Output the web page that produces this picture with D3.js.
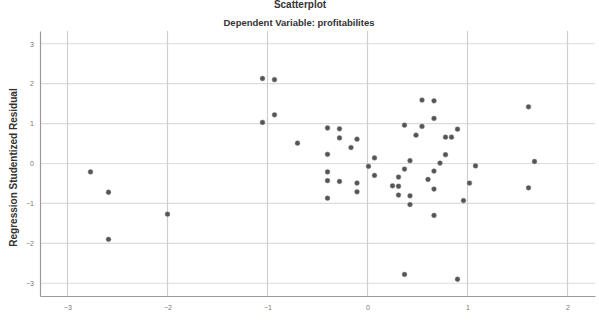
<!DOCTYPE html>
<html>
<head>
<meta charset="utf-8">
<script src="https://d3js.org/d3.v7.min.js"></script>
<style>
  html, body { margin: 0; padding: 0; background: #fff; }
  svg { display: block; }
</style>
</head>
<body>
<div id="chart"></div>
<script>
// standardized predicted value (x) and studentized residual (y)
var predX = [-1.05, -0.93, -0.93, -1.05, -0.70, -2.77, -2.59, -2.00, -2.59,
  0.545, 0.665, 1.61, 0.665, -0.40, -0.28, 0.37, 0.545, 0.90, -0.28, -0.105,
  0.485, 0.78, 0.84, -0.165, -0.40, 0.78, 0.07, 0.425, 0.725, 0.01, 1.08,
  1.67, 0.37, 0.665, -0.40, 0.07, 0.31, -0.40, -0.28, 0.605, -0.105, 1.02,
  0.25, 0.31, 1.61, 0.665, -0.105, 0.31, 0.425, -0.40, 0.96, 0.425, 0.665,
  0.37, 0.90];
var residY = [2.13, 2.10, 1.22, 1.03, 0.51, -0.21, -0.72, -1.27, -1.90,
  1.59, 1.57, 1.42, 1.13, 0.89, 0.87, 0.96, 0.93, 0.86, 0.64, 0.61,
  0.71, 0.66, 0.66, 0.40, 0.23, 0.22, 0.14, 0.07, 0.01, -0.07, -0.06,
  0.05, -0.14, -0.19, -0.21, -0.30, -0.34, -0.43, -0.45, -0.40, -0.49, -0.49,
  -0.56, -0.57, -0.61, -0.64, -0.71, -0.79, -0.81, -0.87, -0.93, -1.03, -1.30,
  -2.78, -2.90];
var xTicks = [-3, -2, -1, 0, 1, 2];
var yTicks = [-3, -2, -1, 0, 1, 2, 3];

var chartTitle = "Scatterplot";
var chartSubtitle = "Dependent Variable: profitabilites";
var yTitle = "Regression Studentized Residual";

var W = 599, H = 321;
var margin = { top: 31, right: 4, bottom: 25, left: 40 };
var width = W - margin.left - margin.right,
    height = H - margin.top - margin.bottom;

var svg = d3.select("#chart").append("svg")
  .attr("width", W)
  .attr("height", H)
  .style("font-family", "Arial, 'Liberation Sans', sans-serif");

var g = svg.append("g")
  .attr("transform", "translate(" + margin.left + "," + margin.top + ")");

var x = d3.scaleLinear().domain([-3.275, 2.275]).range([0, width]);
var y = d3.scaleLinear().domain([-3.32, 3.32]).range([height, 0]);

// grid lines
g.append("g").selectAll("line")
  .data(yTicks).enter().append("line")
  .attr("x1", 0).attr("x2", width)
  .attr("y1", function (d) { return y(d); })
  .attr("y2", function (d) { return y(d); })
  .attr("stroke", "#dcdcdc").attr("stroke-width", 1.2);

g.append("g").selectAll("line")
  .data(xTicks).enter().append("line")
  .attr("y1", 0).attr("y2", height)
  .attr("x1", function (d) { return x(d); })
  .attr("x2", function (d) { return x(d); })
  .attr("stroke", "#cfcfcf").attr("stroke-width", 1.2);

// axes
var fmt = d3.format("d");
var xAxis = g.append("g")
  .attr("transform", "translate(0," + height + ")")
  .call(d3.axisBottom(x).tickValues(xTicks).tickFormat(fmt).tickSize(0).tickPadding(9));
var yAxis = g.append("g")
  .call(d3.axisLeft(y).tickValues(yTicks).tickFormat(fmt).tickSize(0).tickPadding(6));

[xAxis, yAxis].forEach(function (a) {
  a.select(".domain").attr("stroke", "#9a9a9a").attr("stroke-width", 1.2);
  a.selectAll("text").attr("fill", "#777").style("font-size", "7px")
    .style("font-family", "Arial, 'Liberation Sans', sans-serif");
});

// points
g.append("g").selectAll("circle")
  .data(predX).enter().append("circle")
  .attr("cx", function (d) { return x(d); })
  .attr("cy", function (d, i) { return y(residY[i]); })
  .attr("r", 2.4)
  .attr("fill", "#555")
  .attr("stroke", "#7a7a7a")
  .attr("stroke-width", 0.5);

// titles
svg.append("text")
  .attr("x", 300).attr("y", 8)
  .attr("text-anchor", "middle")
  .attr("fill", "#333")
  .style("font-size", "10px").style("font-weight", "bold")
  .text(chartTitle);

svg.append("text")
  .attr("x", 299).attr("y", 26)
  .attr("text-anchor", "middle")
  .attr("fill", "#333")
  .style("font-size", "9.5px").style("font-weight", "bold")
  .text(chartSubtitle);

svg.append("text")
  .attr("transform", "translate(17," + (margin.top + y(0) + 4) + ") rotate(-90)")
  .attr("text-anchor", "middle")
  .attr("fill", "#333")
  .style("font-size", "10px").style("font-weight", "bold")
  .text(yTitle);
</script>
</body>
</html>
